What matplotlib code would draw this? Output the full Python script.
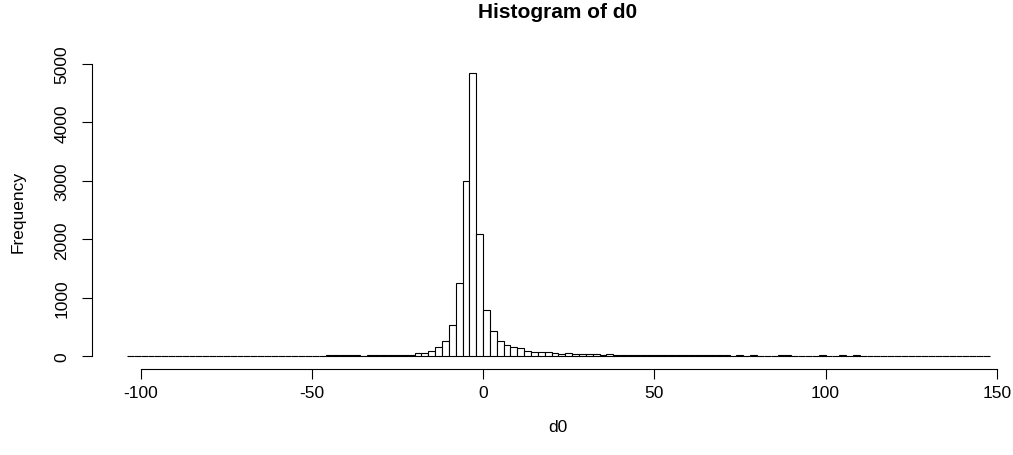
import numpy as np
import matplotlib
matplotlib.use("Agg")
import matplotlib.pyplot as plt

plt.rcParams['font.family'] = ['Liberation Sans', 'DejaVu Sans']

# Histogram data (bin width 2, bins from -104 to 148)
bin_width = 2
first_break = -104
counts = (
    [0] * 29                                  # -104 .. -48
    + [17, 16, 18, 16, 17]                    # -46 .. -38
    + [0]                                     # -36
    + [17, 18, 18, 19, 19, 20]                # -34 .. -24
    + [30, 48, 50, 91, 154, 267, 540, 1250, 3005, 4850, 2085]   # -22 .. -2
    + [785, 425, 265, 195, 155, 135, 90, 70, 68, 66]            # 0 .. 18
    + [50, 35, 55, 34, 33, 32, 33, 22, 40]                      # 20 .. 36
    + [20, 20, 19, 19, 19, 18, 18, 18, 18, 17, 17, 17, 17, 17, 16, 16, 16]  # 38 .. 70
    + [0, 17, 0, 17, 0, 0, 0, 17, 17, 0, 0, 0, 0, 17, 0, 0, 17, 0, 17] # 72 .. 108
    + [0] * 19                                # 110 .. 146
)
x_ticks = [-100, -50, 0, 50, 100, 150]
y_ticks = [0, 1000, 2000, 3000, 4000, 5000]
title = "Histogram of d0"
x_label = "d0"
y_label = "Frequency"

W, H = 1013, 456
fig = plt.figure(figsize=(W / 100, H / 100), dpi=100)

# axes placed in pixel terms
left_px, right_px, top_px, bottom_px = 92, 1030, 60, 370
ax = fig.add_axes([left_px / W, 1 - bottom_px / H,
                   (right_px - left_px) / W, (bottom_px - top_px) / H])

x0 = 483.1
sx = 3.424
y0 = 357.3
sy = 0.05846
ax.set_xlim((left_px - x0) / sx, (right_px - x0) / sx)
ax.set_ylim((y0 - bottom_px) / sy, (y0 - top_px) / sy)

lefts = first_break + bin_width * np.arange(len(counts))
ax.bar(lefts, counts, width=bin_width, align='edge', facecolor='white',
       edgecolor='black', linewidth=0.8)

for s in ['top', 'right']:
    ax.spines[s].set_visible(False)
ax.spines['left'].set_bounds(y_ticks[0], y_ticks[-1])
ax.spines['bottom'].set_bounds(x_ticks[0], x_ticks[-1])
ax.spines['left'].set_linewidth(0.8)
ax.spines['bottom'].set_linewidth(0.8)

ax.set_xticks(x_ticks)
ax.set_yticks(y_ticks)
ax.set_xticklabels([str(t) for t in x_ticks])
ax.set_yticklabels([str(t) for t in y_ticks], rotation=90, va='center')
ax.tick_params(axis='both', length=7.2, width=0.8, labelsize=12.5)
ax.tick_params(axis='x', pad=4)
ax.tick_params(axis='y', pad=9)

fig.text(558 / W, 1 - 13 / H, title, ha='center', va='center',
         fontsize=15, fontweight='bold')
fig.text(558 / W, 1 - 428 / H, x_label, ha='center', va='center', fontsize=12.5)
fig.text(18 / W, 1 - 212 / H, y_label, ha='center', va='center',
         rotation=90, fontsize=12.5)

fig.savefig("out.png", dpi=100)
